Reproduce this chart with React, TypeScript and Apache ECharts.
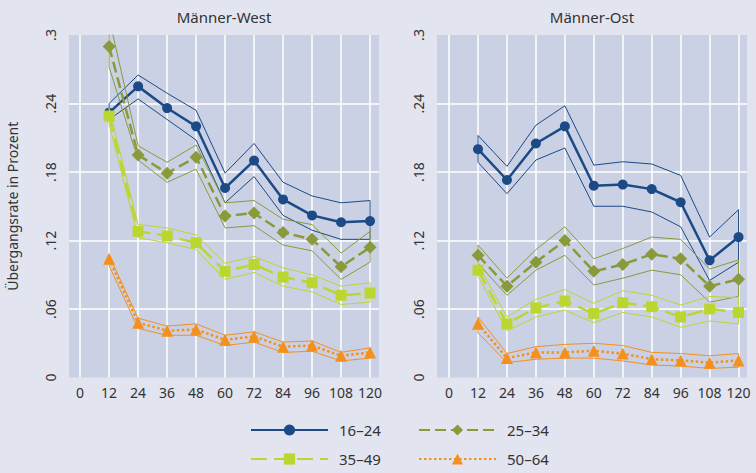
import React, { useEffect, useRef } from "react";
import * as echarts from "echarts";

const months = [12, 24, 36, 48, 60, 72, 84, 96, 108, 120];
const xTicks = [0, 12, 24, 36, 48, 60, 72, 84, 96, 108, 120];
const panelTitles = ["Männer-West", "Männer-Ost"];
const groups = ["16–24", "25–34", "35–49", "50–64"];

// Männer-West
const w1624 = [0.232, 0.255, 0.236, 0.22, 0.166, 0.19, 0.156, 0.142, 0.136, 0.137];
const w1624Hi = [0.24, 0.265, 0.249, 0.234, 0.179, 0.205, 0.171, 0.159, 0.153, 0.155];
const w1624Lo = [0.226, 0.244, 0.226, 0.208, 0.153, 0.176, 0.142, 0.129, 0.121, 0.121];
const w2534 = [0.29, 0.195, 0.179, 0.193, 0.1415, 0.144, 0.127, 0.121, 0.097, 0.114];
const w2534Hi = [0.315, 0.203, 0.1885, 0.2036, 0.153, 0.155, 0.1386, 0.134, 0.109, 0.128];
const w2534Lo = [0.272, 0.1905, 0.171, 0.1824, 0.131, 0.133, 0.116, 0.111, 0.086, 0.101];
const w3549 = [0.229, 0.128, 0.124, 0.118, 0.093, 0.099, 0.088, 0.083, 0.072, 0.074];
const w3549Hi = [0.236, 0.134, 0.131, 0.125, 0.1, 0.106, 0.096, 0.09, 0.08, 0.083];
const w3549Lo = [0.222, 0.1225, 0.118, 0.112, 0.086, 0.092, 0.08, 0.075, 0.064, 0.066];
const w5064 = [0.104, 0.048, 0.041, 0.042, 0.033, 0.036, 0.027, 0.028, 0.019, 0.022];
const w5064Hi = [0.107, 0.052, 0.045, 0.047, 0.037, 0.04, 0.031, 0.032, 0.022, 0.026];
const w5064Lo = [0.098, 0.043, 0.037, 0.037, 0.028, 0.031, 0.022, 0.023, 0.0145, 0.017];

// Männer-Ost
const o1624 = [0.2, 0.173, 0.205, 0.22, 0.168, 0.169, 0.165, 0.1535, 0.1026, 0.123];
const o1624Hi = [0.212, 0.185, 0.221, 0.238, 0.186, 0.189, 0.187, 0.177, 0.123, 0.147];
const o1624Lo = [0.1885, 0.161, 0.1905, 0.201, 0.15, 0.15, 0.145, 0.132, 0.085, 0.101];
const o2534 = [0.107, 0.08, 0.101, 0.12, 0.093, 0.099, 0.108, 0.104, 0.08, 0.086];
const o2534Hi = [0.116, 0.087, 0.112, 0.132, 0.104, 0.113, 0.123, 0.121, 0.095, 0.103];
const o2534Lo = [0.1, 0.072, 0.094, 0.107, 0.081, 0.087, 0.094, 0.09, 0.066, 0.071];
const o3549 = [0.094, 0.047, 0.061, 0.067, 0.056, 0.0655, 0.062, 0.053, 0.06, 0.057];
const o3549Hi = [0.099, 0.053, 0.0685, 0.077, 0.065, 0.076, 0.072, 0.0635, 0.071, 0.07];
const o3549Lo = [0.089, 0.041, 0.053, 0.059, 0.048, 0.057, 0.053, 0.044, 0.0495, 0.047];
const o5064 = [0.047, 0.017, 0.022, 0.022, 0.0235, 0.021, 0.016, 0.015, 0.013, 0.015];
const o5064Hi = [0.053, 0.021, 0.027, 0.029, 0.03, 0.028, 0.022, 0.021, 0.019, 0.021];
const o5064Lo = [0.039, 0.013, 0.016, 0.017, 0.017, 0.0145, 0.011, 0.01, 0.008, 0.009];

const panels = [
  {
    mid: [w1624, w2534, w3549, w5064],
    hi: [w1624Hi, w2534Hi, w3549Hi, w5064Hi],
    lo: [w1624Lo, w2534Lo, w3549Lo, w5064Lo],
  },
  {
    mid: [o1624, o2534, o3549, o5064],
    hi: [o1624Hi, o2534Hi, o3549Hi, o5064Hi],
    lo: [o1624Lo, o2534Lo, o3549Lo, o5064Lo],
  },
];

const colors = ["#1b4a86", "#8a9a3b", "#bcd631", "#f4901e"];
const symbols = ["circle", "diamond", "rect", "triangle"];
const symbolSizes = [10, 13, 11, 12];
const lineTypes: any[] = ["solid", [11, 5], [16, 7], [2.5, 2.5]];
const legendPos = [
  { left: 250, top: 421 },
  { left: 418, top: 421 },
  { left: 250, top: 450 },
  { left: 418, top: 450 },
];
const FONT = "Noto Sans";

export default function App() {
  const ref = useRef<HTMLDivElement>(null);
  useEffect(() => {
    if (!ref.current) return;
    const chart = echarts.init(ref.current, null, { renderer: "svg" });
    const grids = [
      { left: 69, right: 756 - 379, top: 35, bottom: 473 - 377.5 },
      { left: 437, right: 9, top: 35, bottom: 473 - 377.5 },
    ];
    const xRanges = [
      [-4.6, 123.7],
      [-5, 123.5],
    ];
    const series: any[] = [];
    panels.forEach((p, pi) => {
      for (let g = 0; g < 4; g++) {
        const poly: number[][] = [];
        months.forEach((m, i) => poly.push([m, p.hi[g][i]]));
        for (let i = months.length - 1; i >= 0; i--) poly.push([months[i], p.lo[g][i]]);
        poly.push([months[0], p.hi[g][0]]);
        series.push({
          type: "line",
          name: groups[g] + " KI",
          xAxisIndex: pi,
          yAxisIndex: pi,
          data: poly,
          symbol: "none",
          clip: true,
          silent: true,
          lineStyle: { color: colors[g], width: 1 },
          z: 2 + g,
        });
        series.push({
          type: "line",
          name: groups[g],
          xAxisIndex: pi,
          yAxisIndex: pi,
          data: months.map((m, i) => [m, p.mid[g][i]]),
          symbol: symbols[g],
          symbolSize: symbolSizes[g],
          clip: true,
          itemStyle: { color: colors[g] },
          lineStyle: { color: colors[g], width: 2.5, type: lineTypes[g] },
          z: 3 + g,
        });
      }
    });
    const option: any = {
      animation: false,
      backgroundColor: "#e2e5f0",
      textStyle: { fontFamily: FONT },
      grid: grids.map((g) => ({
        ...g,
        show: true,
        backgroundColor: "#cbd1e4",
        borderWidth: 0,
        containLabel: false,
      })),
      xAxis: grids.map((_, i) => ({
        type: "value",
        gridIndex: i,
        min: xRanges[i][0],
        max: xRanges[i][1],
        axisLine: { show: false },
        axisTick: { show: false, customValues: xTicks },
        axisLabel: {
          customValues: xTicks,
          color: "#333",
          fontSize: 14,
          margin: 8,
          fontFamily: FONT,
        },
        splitLine: { show: true, lineStyle: { color: "#ffffff", width: 1.5 } },
      })),
      yAxis: grids.map((_, i) => ({
        type: "value",
        gridIndex: i,
        min: 0,
        max: 0.3,
        interval: 0.06,
        name: i === 0 ? "Übergangsrate in Prozent" : "",
        nameLocation: "middle",
        nameRotate: 90,
        nameGap: 50,
        nameTextStyle: { color: "#333", fontSize: 14, fontFamily: FONT },
        axisLine: { show: false },
        axisTick: { show: false },
        axisLabel: {
          rotate: 90,
          color: "#333",
          fontSize: 14,
          margin: 12,
          fontFamily: FONT,
          formatter: (v: number) => {
            if (v === 0) return "0";
            const s = (Math.round(v * 100) / 100).toString();
            return s.replace(/^0/, "");
          },
        },
        splitLine: {
          show: true,
          showMinLine: false,
          showMaxLine: false,
          lineStyle: { color: "#ffffff", width: 1.5 },
        },
      })),
      legend: groups.map((name, g) => ({
        ...legendPos[g],
        orient: "horizontal",
        padding: 0,
        itemWidth: 77,
        itemHeight: 14,
        data: [name],
        textStyle: {
          fontSize: 15,
          lineHeight: 18,
          color: "#333",
          fontFamily: FONT,
          padding: [0, 0, 0, 6],
        },
      })),
      graphic: [
        {
          type: "text",
          x: 224,
          y: 17,
          style: {
            text: panelTitles[0],
            textAlign: "center",
            textVerticalAlign: "middle",
            fontSize: 15,
            fill: "#333",
            fontFamily: FONT,
          },
        },
        {
          type: "text",
          x: 592,
          y: 17,
          style: {
            text: panelTitles[1],
            textAlign: "center",
            textVerticalAlign: "middle",
            fontSize: 15,
            fill: "#333",
            fontFamily: FONT,
          },
        },
      ],
      series,
    };
    chart.setOption(option);
    return () => chart.dispose();
  }, []);
  return (
    <div
      ref={ref}
      style={{ position: "absolute", left: 0, top: 0, width: 756, height: 473 }}
    />
  );
}
